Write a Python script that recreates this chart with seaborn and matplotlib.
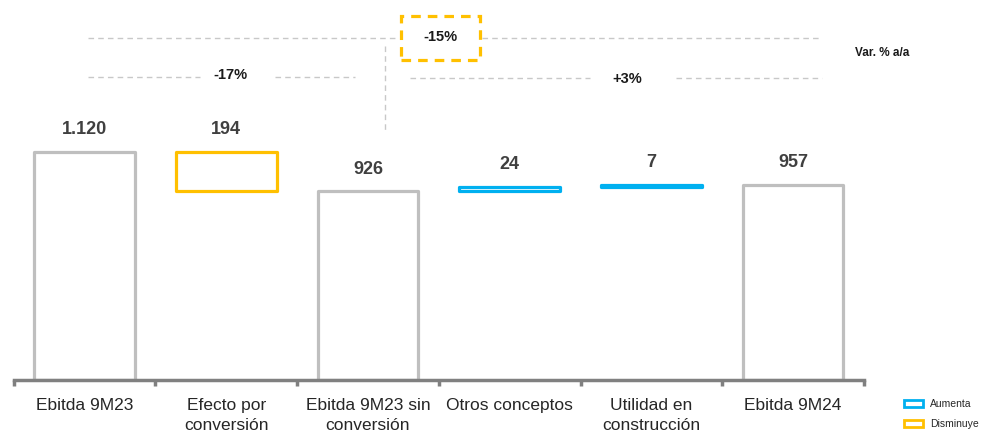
import matplotlib
matplotlib.use("Agg")
import matplotlib.pyplot as plt
import seaborn as sns
import pandas as pd
from matplotlib.lines import Line2D
from matplotlib.patches import Rectangle, Patch
from matplotlib.ticker import FixedLocator

# ---- data ----
categories = ["Ebitda 9M23", "Efecto por\nconversión", "Ebitda 9M23 sin\nconversión",
              "Otros conceptos", "Utilidad en\nconstrucción", "Ebitda 9M24"]
values = [1120, -194, 926, 24, 7, 957]
kinds = ["total", "delta", "total", "delta", "delta", "total"]
value_labels = ["1.120", "194", "926", "24", "7", "957"]
var_labels = ["-15%", "-17%", "+3%"]
var_title = "Var. % a/a"
legend_labels = ["Aumenta", "Disminuye"]

GRAY = "#BFBFBF"
YELLOW = "#FFC000"
BLUE = "#00B0F0"
TXT = "#404040"

sns.set_theme(style="white")
plt.rcParams["font.family"] = ["Liberation Sans", "DejaVu Sans"]

# compute waterfall bottoms / tops
bottoms, heights, colors = [], [], []
running = 0
for v, k in zip(values, kinds):
    if k == "total":
        bottoms.append(0); heights.append(v); running = v
        colors.append(GRAY)
    else:
        new = running + v
        bottoms.append(min(running, new)); heights.append(abs(v))
        colors.append(BLUE if v > 0 else YELLOW)
        running = new
df = pd.DataFrame({"cat": categories, "height": heights, "bottom": bottoms})

fig = plt.figure(figsize=(10, 4.33), dpi=100)
H = 433.0
ax = fig.add_axes([0.0136, 1 - 380 / H, 0.8504, 380 / H])

sns.barplot(data=df, x="cat", y="height", hue="cat", palette=colors, fill=False,
            width=0.71, legend=False, ax=ax, linewidth=2.3)
for p, b, c in zip(ax.patches, bottoms, colors):
    p.set_y(b)
    p.set_edgecolor(c)
    p.set_facecolor("white")
    p.set_fill(True)
    p.set_joinstyle("round")

ax.set_xlim(-0.5, len(categories) - 0.5)
ax.set_ylim(0, 1866)
ax.set_xlabel(""); ax.set_ylabel("")
ax.set_yticks([])
for s in ["top", "right", "left"]:
    ax.spines[s].set_visible(False)
ax.spines["bottom"].set_color("#808080")
ax.spines["bottom"].set_linewidth(2.5)
ax.xaxis.set_minor_locator(FixedLocator([i - 0.5 for i in range(len(categories) + 1)]))
ax.tick_params(axis="x", which="major", length=0, pad=13, labelsize=12.5, labelcolor="#262626")
ax.tick_params(axis="x", which="minor", length=4, width=2.5, color="#808080", bottom=True, direction="out")
for t in ax.get_xticklabels():
    t.set_linespacing(1.4)

# value labels
for i, (b, h, lab) in enumerate(zip(bottoms, heights, value_labels)):
    ax.annotate(lab, (i, b + h), xytext=(0, 16), textcoords="offset points",
                ha="center", va="center", fontsize=13, fontweight="bold", color=TXT)

# variation annotations (figure pixel coords)
def px(x, y):
    return (x / 1000.0, 1 - y / H)

def hline(x0, x1, y):
    a, b = px(x0, y), px(x1, y)
    fig.add_artist(Line2D([a[0], b[0]], [a[1], b[1]], transform=fig.transFigure,
                          color="#C8C8C8", lw=1, dashes=(4, 3)))

hline(88, 398, 38); hline(482, 822, 38)
hline(88, 200, 77); hline(275, 355, 77)
hline(410, 590, 78); hline(676, 822, 78)
a, b = px(385, 46), px(385, 130)
fig.add_artist(Line2D([a[0], b[0]], [a[1], b[1]], transform=fig.transFigure,
                      color="#C8C8C8", lw=1, dashes=(4, 3)))
bl = px(401, 60)
fig.add_artist(Rectangle(bl, 79 / 1000.0, 44 / H, transform=fig.transFigure,
                         fill=False, edgecolor=YELLOW, lw=2.3, ls=(0, (3, 2.2))))

fig.text(*px(440, 37), var_labels[0], ha="center", va="center", fontsize=10.5, fontweight="bold", color="#1a1a1a")
fig.text(*px(230, 75), var_labels[1], ha="center", va="center", fontsize=10.5, fontweight="bold", color="#1a1a1a")
fig.text(*px(627, 79), var_labels[2], ha="center", va="center", fontsize=10.5, fontweight="bold", color="#1a1a1a")
fig.text(*px(855, 53), var_title, ha="left", va="center", fontsize=8.5, fontweight="bold", color="#1a1a1a")

handles = [Patch(facecolor="white", edgecolor=BLUE, lw=2),
           Patch(facecolor="white", edgecolor=YELLOW, lw=2)]
fig.legend(handles, legend_labels, loc="lower left", bbox_to_anchor=(0.898, -0.005),
           frameon=False, fontsize=7.5, handlelength=1.8, handleheight=0.6,
           handletextpad=0.7, labelspacing=0.95, borderaxespad=0.2)

fig.savefig("out.png", dpi=100)
